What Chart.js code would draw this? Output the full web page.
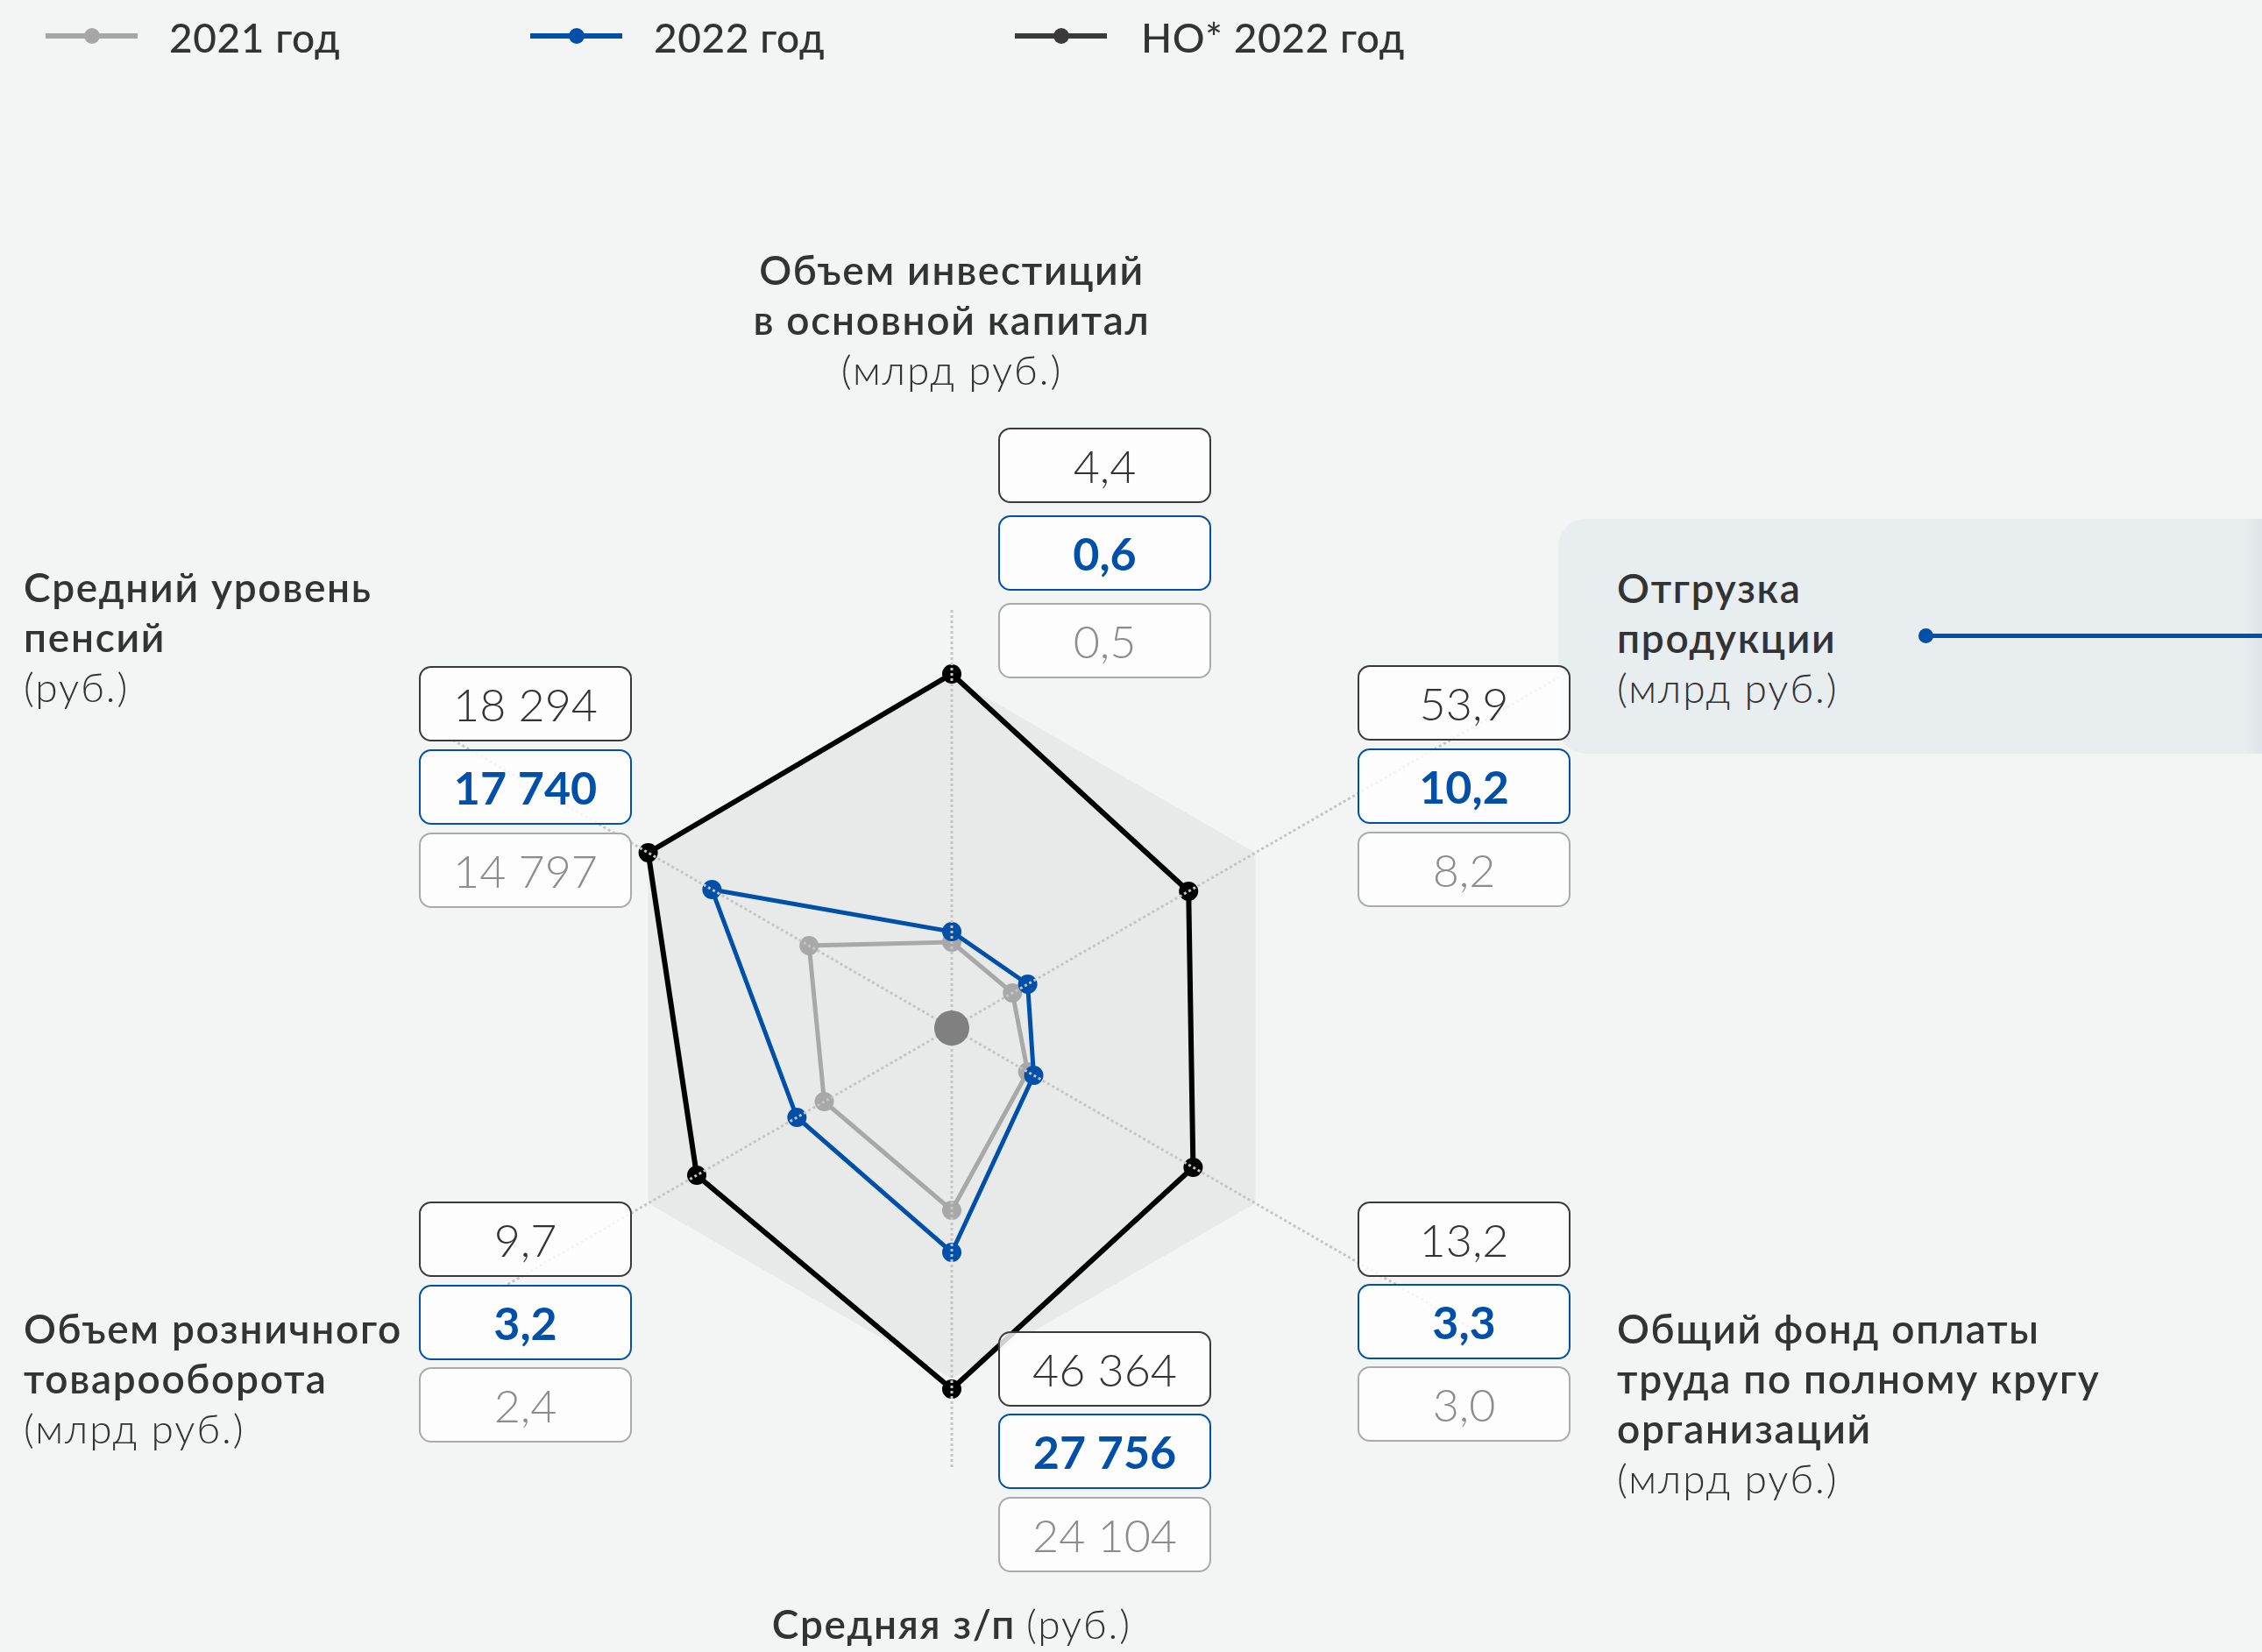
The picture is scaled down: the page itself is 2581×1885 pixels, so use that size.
<!DOCTYPE html>
<html lang="ru">
<head>
<meta charset="utf-8">
<script src="https://cdn.jsdelivr.net/npm/chart.js@4/dist/chart.umd.min.js"></script>
<style>
  html, body { margin:0; padding:0; }
  body { width:2581px; height:1885px; background:#f3f4f4; position:relative; overflow:hidden;
         font-family: Lato, "Noto Sans", sans-serif; color:#333; }
  #chart { position:absolute; left:0; top:0; }
  .legend { position:absolute; top:14px; height:57px; line-height:57px; font-size:46px; font-weight:500; color:#333; letter-spacing:0.6px; }
  .lg-line { position:absolute; height:6px; top:38px; }
  .lg-dot { position:absolute; width:18px; height:18px; border-radius:50%; top:32px; }
  .lbl { position:absolute; font-size:46px; line-height:57px; color:#333; white-space:nowrap; }
  .lbl b { font-weight:600; letter-spacing:1.7px; }
  .lbl i { font-style:normal; font-weight:300; letter-spacing:2px; }
  .box { position:absolute; width:239px; height:82px; border:2px solid; border-radius:14px;
         background:rgba(255,255,255,0.82); text-align:center; line-height:82px; font-size:52px; }
  .bk { border-color:#3a3a3a; color:#333; font-weight:300; }
  .bl { border-color:#0050aa; color:#0050aa; font-weight:700; }
  .gr { border-color:#aaaaaa; color:#8c8c8c; font-weight:300; }
  #panel { position:absolute; left:1778px; top:592px; width:803px; height:268px; border-radius:32px 0 0 32px;
           background:linear-gradient(to right, #e8edf0 0, #e8edf0 783px, #dfe4e8 803px); }
  #pline { position:absolute; left:2198px; top:723px; width:383px; height:5px; background:#0050aa; }
  #pdot { position:absolute; left:2189px; top:717px; width:17px; height:17px; border-radius:50%; background:#0050aa; }
</style>
</head>
<body>
<canvas id="chart" width="2581" height="1885"></canvas>
<div id="panel"></div>
<div id="pline"></div><div id="pdot"></div>
<div id="legend"></div>
<div id="labels"></div>
<div id="boxes"></div>
<script>
// ---- data ----
const categories = [
  ['Объем инвестиций', 'в основной капитал'],
  ['Отгрузка', 'продукции'],
  ['Общий фонд оплаты', 'труда по полному кругу', 'организаций'],
  ['Средняя з/п'],
  ['Объем розничного', 'товарооборота'],
  ['Средний уровень', 'пенсий']
];
const units = ['(млрд руб.)', '(млрд руб.)', '(млрд руб.)', '(руб.)', '(млрд руб.)', '(руб.)'];
const seriesNames = ['2021 год', '2022 год', 'НО* 2022 год'];
const labels2021 = ['0,5', '8,2', '3,0', '24 104', '2,4', '14 797'];
const labels2022 = ['0,6', '10,2', '3,3', '27 756', '3,2', '17 740'];
const labelsNO2022 = ['4,4', '53,9', '13,2', '46 364', '9,7', '18 294'];
// plotted (normalised) positions, 1 = outer grey hexagon
const plot2021 = [0.245, 0.20, 0.25, 0.52, 0.42, 0.47];
const plot2022 = [0.275, 0.25, 0.27, 0.64, 0.51, 0.79];
const plotNO2022 = [1.01, 0.78, 0.795, 1.03, 0.84, 1.0];
const plotFrame = [1, 1, 1, 1, 1, 1];
// length of each dotted axis line, in the same units
const axisLength = [1.195, 2.1, 1.72, 1.26, 1.48, 1.66];

// ---- layout / style ----
const colors = { g: '#a8a8a8', b: '#0050aa', k: '#000000', frame: '#e8e9e9' };
const legendPos = [
  { line: 52, text: 193, color: '#a6a6a6' },
  { line: 605, text: 746, color: '#0050aa' },
  { line: 1158, text: 1302, color: '#3a3a3a' }
];
const labelPos = [
  { x: 1086, y: 279, align: 'center' },
  { x: 1845, y: 642, align: 'left' },
  { x: 1845, y: 1487, align: 'left' },
  { x: 1086, y: 1824, align: 'center', inline: true },
  { x: 27, y: 1487, align: 'left' },
  { x: 27, y: 641, align: 'left' }
];
const boxPos = [
  { x: 1139, y: [488, 588, 688] },
  { x: 1549, y: [759, 854, 949] },
  { x: 1549, y: [1371, 1465, 1559] },
  { x: 1139, y: [1519, 1613, 1708] },
  { x: 478, y: [1371, 1466, 1560] },
  { x: 478, y: [760, 855, 950] }
];

// legend
const lg = document.getElementById('legend');
seriesNames.forEach((n, i) => {
  const p = legendPos[i];
  lg.insertAdjacentHTML('beforeend',
    `<div class="lg-line" style="left:${p.line}px;width:105px;background:${p.color}"></div>` +
    `<div class="lg-dot" style="left:${p.line + 44}px;background:${p.color}"></div>` +
    `<div class="legend" style="left:${p.text}px">${n}</div>`);
});

// axis labels
const lb = document.getElementById('labels');
categories.forEach((lines, i) => {
  const p = labelPos[i];
  let html;
  if (p.inline) html = `<b>${lines[0]}</b> <i>${units[i]}</i>`;
  else html = lines.map(l => `<b>${l}</b>`).join('<br>') + `<br><i>${units[i]}</i>`;
  const style = p.align === 'center'
    ? `left:${p.x - 600}px;width:1200px;text-align:center;top:${p.y}px`
    : `left:${p.x}px;top:${p.y}px`;
  lb.insertAdjacentHTML('beforeend', `<div class="lbl" style="${style}">${html}</div>`);
});

// value boxes
const bx = document.getElementById('boxes');
categories.forEach((_, i) => {
  const p = boxPos[i];
  [[labelsNO2022, 'bk'], [labels2022, 'bl'], [labels2021, 'gr']].forEach(([arr, cls], j) => {
    bx.insertAdjacentHTML('beforeend',
      `<div class="box ${cls}" style="left:${p.x}px;top:${p.y[j]}px">${arr[i]}</div>`);
  });
});

// plugin: dotted axis lines over the data and the centre dot
const axisPlugin = {
  id: 'axisLines',
  afterDatasetsDraw(chart) {
    const s = chart.scales.r;
    const ctx = chart.ctx;
    ctx.save();
    ctx.strokeStyle = '#c4c4c4';
    ctx.lineWidth = 3;
    ctx.setLineDash([3, 3]);
    axisLength.forEach((len, i) => {
      const p = s.getPointPosition(i, s.getDistanceFromCenterForValue(len));
      ctx.beginPath();
      ctx.moveTo(s.xCenter, s.yCenter);
      ctx.lineTo(p.x, p.y);
      ctx.stroke();
    });
    ctx.setLineDash([]);
    ctx.fillStyle = '#808080';
    ctx.beginPath();
    ctx.arc(s.xCenter, s.yCenter, 20, 0, Math.PI * 2);
    ctx.fill();
    ctx.restore();
  }
};

const ds = (label, data, color, w) => ({
  label, data, borderColor: color, backgroundColor: 'transparent', fill: false,
  borderWidth: w, pointRadius: 11, pointBackgroundColor: color, pointBorderWidth: 0,
  pointHoverRadius: 11
});

new Chart(document.getElementById('chart'), {
  type: 'radar',
  data: {
    labels: categories.map(c => c.join(' ')),
    datasets: [
      ds(seriesNames[2], plotNO2022, colors.k, 6),
      ds(seriesNames[1], plot2022, colors.b, 5),
      ds(seriesNames[0], plot2021, colors.g, 5),
      { label: 'frame', data: plotFrame, borderWidth: 0, borderColor: 'transparent',
        backgroundColor: colors.frame, fill: 'origin', pointRadius: 0, pointHoverRadius: 0 }
    ]
  },
  options: {
    responsive: false,
    animation: false,
    devicePixelRatio: 1,
    // chart area 960x960 centred at (1086,1173); max 1.2 -> value 1 = 400 px
    layout: { padding: { left: 606, right: 1015, top: 693, bottom: 232 } },
    plugins: { legend: { display: false }, tooltip: { enabled: false }, filler: { propagate: false } },
    elements: { line: { tension: 0 } },
    scales: {
      r: {
        min: 0, max: 1.2,
        grid: { display: false },
        angleLines: { display: false },
        ticks: { display: false },
        pointLabels: { display: false }
      }
    }
  },
  plugins: [axisPlugin]
});
</script>
</body>
</html>
